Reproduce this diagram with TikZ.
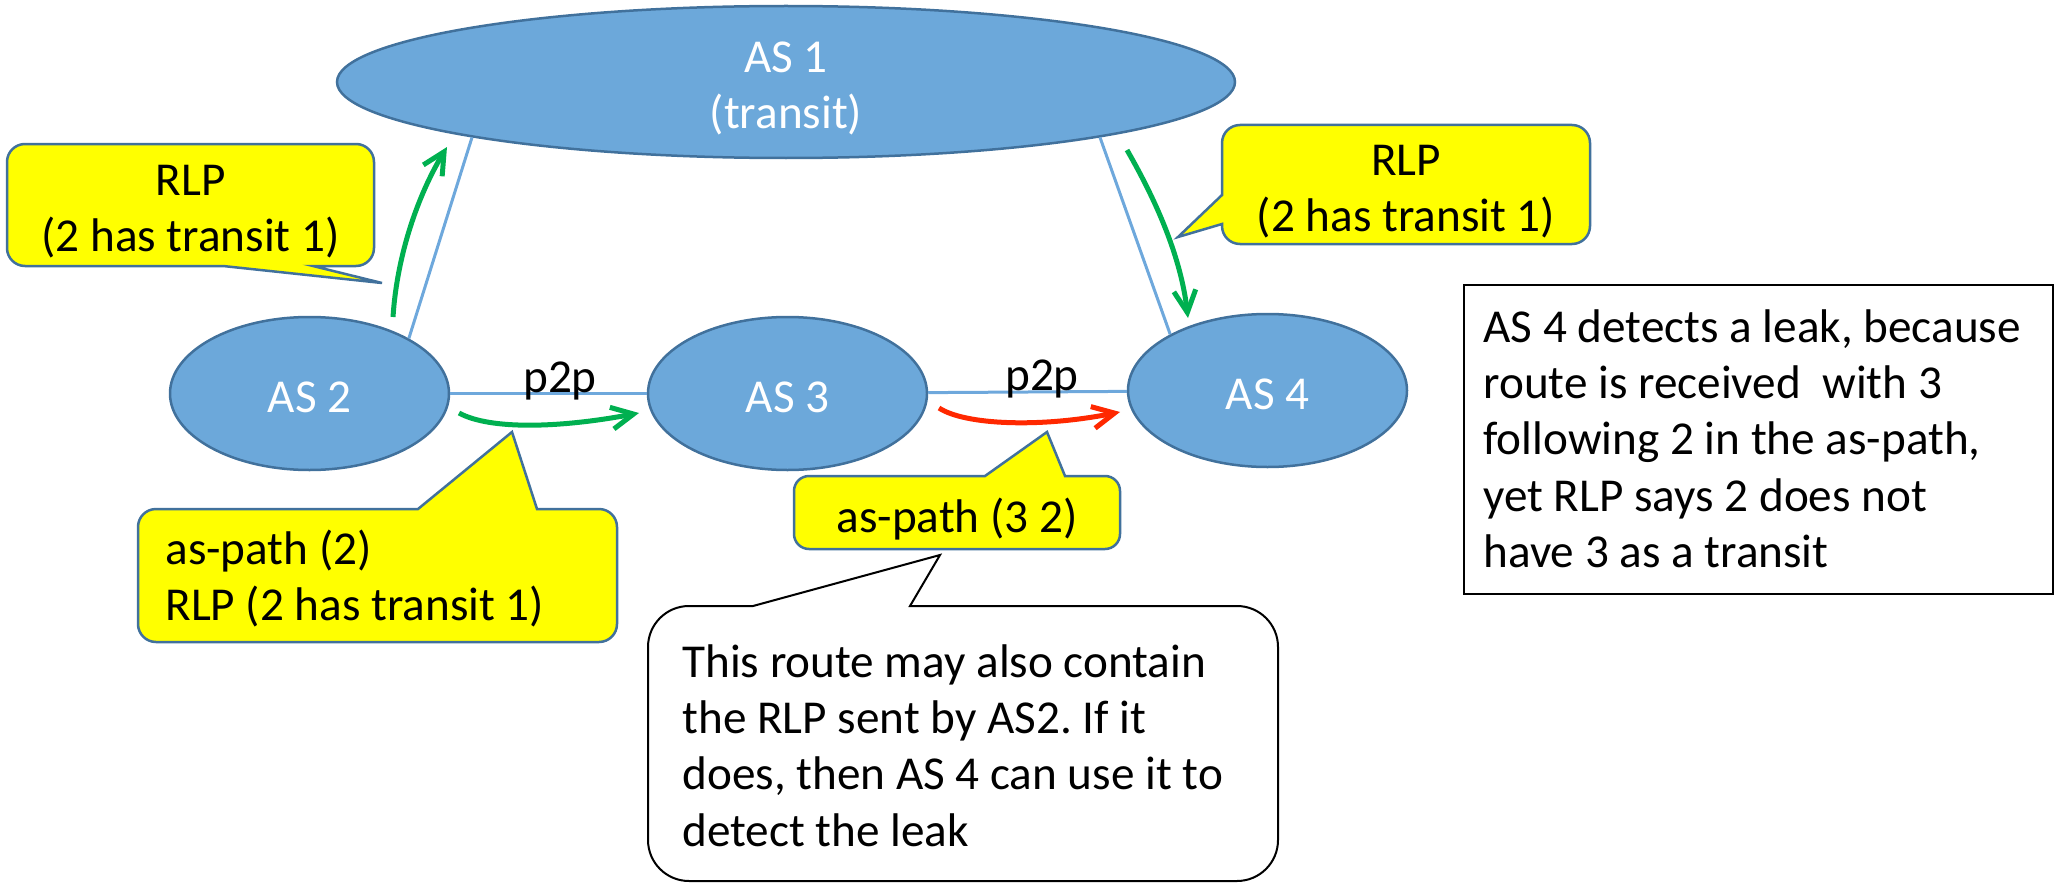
\documentclass[tikz,border=0pt]{standalone}
\usepackage{fontspec}
\setmainfont{Carlito}
\usetikzlibrary{shapes.geometric,arrows.meta}
\frenchspacing

\definecolor{asfill}{RGB}{108,168,218}
\definecolor{asline}{RGB}{65,113,156}
\definecolor{linkblue}{RGB}{110,168,220}
\definecolor{callyellow}{RGB}{255,255,0}
\definecolor{arrowgreen}{RGB}{0,176,80}
\definecolor{arrowred}{RGB}{255,40,0}

\newcommand\bodyfont{\fontsize{23.6}{28.2}\selectfont}
% stacked lines; the box baseline is the first line
\newcommand\ctrlines[1]{\vtop{\halign{\hfil##\hfil\cr#1\crcr}}}
\newcommand\leftlines[1]{\vtop{\halign{##\hfil\cr#1\crcr}}}

\begin{document}
\begin{tikzpicture}[x=0.5pt,y=-0.5pt,
  asnode/.style={ellipse, draw=asline, fill=asfill, line width=1.25pt,
    inner sep=0pt, minimum width=139.5pt, minimum height=76.5pt,
    text=white, font=\bodyfont, text height=19pt, text depth=0pt},
  link/.style={draw=linkblue, line width=1.5pt},
  callout/.style={draw=asline, fill=callyellow, line width=1.25pt},
  note/.style={draw=black, fill=white, line width=1pt},
  txt/.style={inner sep=0pt, font=\bodyfont, text=black},
  flow/.style={line width=2.5pt, -{Straight Barb[length=11pt,width=11pt]}},
]
\useasboundingbox (0,0) rectangle (2060,883);

% autonomous systems
\node[asnode, minimum width=449pt, minimum height=76pt,
      text height=10pt, text depth=19.5pt] (as1) at (786,82) {\ctrlines{AS 1\cr (transit)}};
\node[asnode] (as2) at (309.5,393.5) {AS 2};
\node[asnode] (as3) at (787.5,393.5) {AS 3};
\node[asnode] (as4) at (1267.5,390.5) {AS 4};

% relationships
\draw[link] (as2.29.7) -- (as1.190);
\draw[link] (as4.150.6) -- (as1.350.2);
\draw[link] (as2) -- (as3);
\draw[link] (as3) -- (as4);
\node[txt, anchor=base] (p2pA) at (560,392) {p2p};
\node[txt, anchor=base] (p2pB) at (1042,390) {p2p};

% RLP sent up to AS 1
\draw[callout] (25,144) -- (356,144) arc[start angle=90,end angle=0,radius=9pt]
  -- (374,248) arc[start angle=0,end angle=-90,radius=9pt]
  -- (313,266) -- (382,283) -- (223,266)
  -- (25,266) arc[start angle=-90,end angle=-180,radius=9pt]
  -- (7,162) arc[start angle=180,end angle=90,radius=9pt] -- cycle;
\node[txt, anchor=base] (rlpUp) at (190.5,195) {\ctrlines{RLP\cr (2 has transit 1)}};

% RLP passed down to AS 4
\draw[callout] (1240,125) -- (1572,125) arc[start angle=90,end angle=0,radius=9pt]
  -- (1590,226) arc[start angle=0,end angle=-90,radius=9pt]
  -- (1240,244) arc[start angle=-90,end angle=-180,radius=9pt]
  -- (1222,224) -- (1178,237) -- (1222,195)
  -- (1222,143) arc[start angle=180,end angle=90,radius=9pt] -- cycle;
\node[txt, anchor=base] (rlpDown) at (1406,175) {\ctrlines{RLP\cr (2 has transit 1)}};

% announcement from AS 2 to AS 3
\draw[callout] (156,509) -- (418,509) -- (512,432) -- (537,509)
  -- (599,509) arc[start angle=90,end angle=0,radius=9pt]
  -- (617,624) arc[start angle=0,end angle=-90,radius=9pt]
  -- (156,642) arc[start angle=-90,end angle=-180,radius=9pt]
  -- (138,527) arc[start angle=180,end angle=90,radius=9pt] -- cycle;
\node[txt, anchor=base west] (ann23) at (165,564) {\leftlines{as-path (2)\cr RLP (2 has transit 1)}};

% announcement from AS 3 to AS 4
\draw[callout] (809,476) -- (985,476) -- (1047,432) -- (1065,476)
  -- (1105,476) arc[start angle=90,end angle=0,radius=7.5pt]
  -- (1120,534) arc[start angle=0,end angle=-90,radius=7.5pt]
  -- (809,549) arc[start angle=-90,end angle=-180,radius=7.5pt]
  -- (794,491) arc[start angle=180,end angle=90,radius=7.5pt] -- cycle;
\node[txt, anchor=base] (ann34) at (957,532) {as-path (3 2)};

% remark on the leaked route
\draw[note] (689,606) -- (753,606) -- (940,555) -- (910,606)
  -- (1237,606) arc[start angle=90,end angle=0,radius=20.5pt]
  -- (1278,840) arc[start angle=0,end angle=-90,radius=20.5pt]
  -- (689,881) arc[start angle=-90,end angle=-180,radius=20.5pt]
  -- (648,647) arc[start angle=180,end angle=90,radius=20.5pt] -- cycle;
\node[txt, anchor=base west] (routenote) at (682,677)
  {\leftlines{This route may also contain\cr the RLP sent by AS2. If it\cr does, then AS 4 can use it to\cr detect the leak}};

% conclusion box
\node[note, anchor=north west, minimum width=294.5pt, minimum height=154.5pt] (leakbox) at (1463,284) {};
\node[txt, anchor=base west] (leaktext) at (1483,342)
  {\leftlines{AS 4 detects a leak, because\cr route is received~~with 3\cr following 2 in the as-path,\cr yet RLP says 2 does not\cr have 3 as a transit}};

% route propagation arrows
\coordinate (g1s) at (393,317);  \coordinate (g1e) at (447,147);
\coordinate (g2s) at (459,413);  \coordinate (g2e) at (639,413);
\coordinate (g3s) at (1127,150); \coordinate (g3e) at (1188,318);
\coordinate (r1s) at (939,408);  \coordinate (r1e) at (1120,412);
\draw[flow, arrowgreen] (g1s) .. controls (397,255) and (418,195) .. (g1e);
\draw[flow, arrowgreen] (g2s) .. controls (490,430) and (560,428) .. (g2e);
\draw[flow, arrowgreen] (g3s) .. controls (1150,190) and (1180,250) .. (g3e);
\draw[flow, arrowred] (r1s) .. controls (965,425) and (1040,428) .. (r1e);
\end{tikzpicture}
\end{document}
